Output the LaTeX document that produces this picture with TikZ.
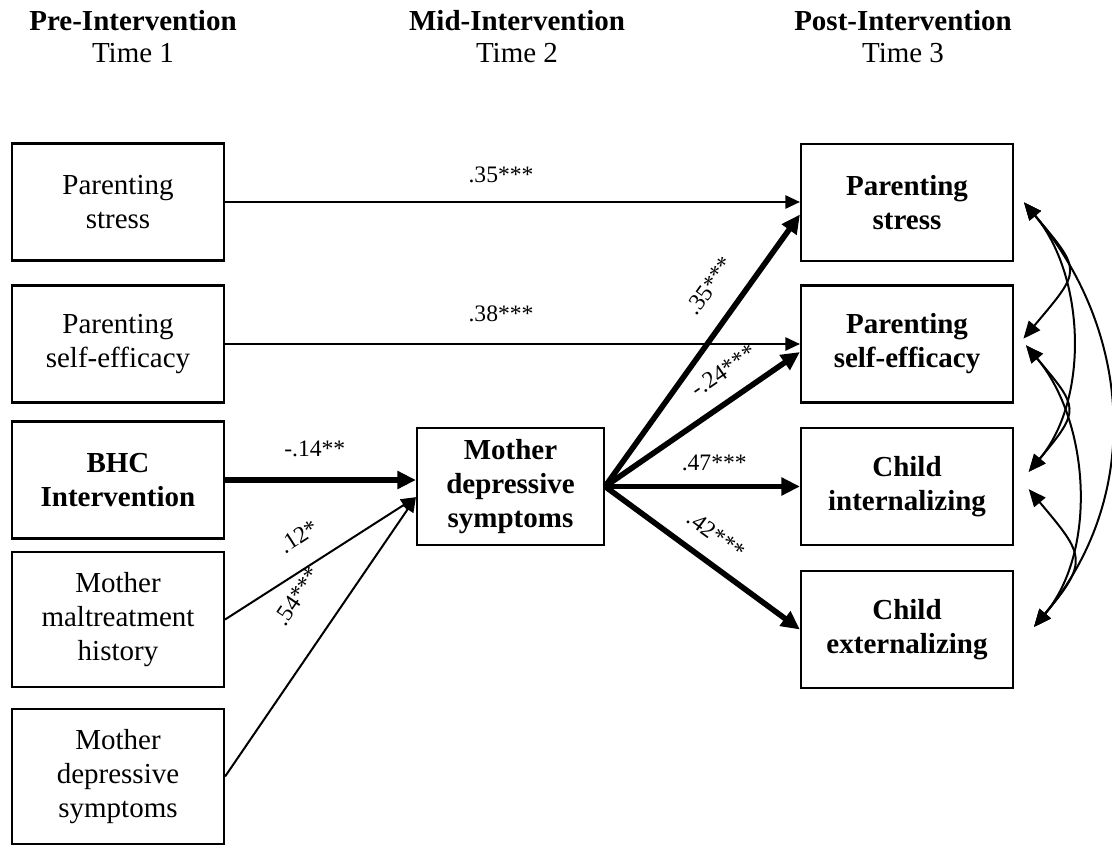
\documentclass[tikz,border=0pt]{standalone}
\usepackage{fontspec}
\setmainfont{Liberation Serif}
\usepackage{tikz}
\usetikzlibrary{arrows.meta}
\tikzstyle{varbox}=[draw, line width=1.6pt, align=center, minimum width=159pt, minimum height=87.75pt, inner sep=2pt, font=\fontsize{21.75}{25.5}\selectfont]
\tikzstyle{tallbox}=[varbox, minimum height=101.25pt]
\tikzstyle{outcome}=[varbox, font=\fontsize{21.75}{25.5}\selectfont\bfseries]
\tikzstyle{heading}=[align=center, font=\fontsize{21.75}{24}\selectfont]
\tikzstyle{thinpath}=[line width=1.5pt, -{Triangle[length=11pt,width=10pt]}]
\tikzstyle{thickpath}=[line width=4.2pt, -{Triangle[length=14pt,width=13pt]}]
\tikzstyle{covpath}=[line width=1.5pt, {Triangle[length=13pt,width=11pt]}-{Triangle[length=13pt,width=11pt]}]
\tikzstyle{coef}=[font=\fontsize{17.7}{20}\selectfont, inner sep=0pt]

\begin{document}
\begin{tikzpicture}[x=0.75pt, y=0.75pt]
	\useasboundingbox (0,0) rectangle (1112,-846);
	% time points
	\node[heading] (t1) at (133,-37) {\textbf{Pre-Intervention}\\Time 1};
	\node[heading] (t2) at (517,-37) {\textbf{Mid-Intervention}\\Time 2};
	\node[heading] (t3) at (903,-37) {\textbf{Post-Intervention}\\Time 3};
	% time 1
	\node[varbox] (ps1) at (118,-202) {Parenting\\stress};
	\node[varbox] (se1) at (118,-344) {Parenting\\self-efficacy};
	\node[outcome] (bhc) at (118,-480) {BHC\\Intervention};
	\node[tallbox] (mal) at (118,-619.5) {Mother\\maltreatment\\history};
	\node[tallbox] (dep1) at (118,-776.5) {Mother\\depressive\\symptoms};
	% time 2
	\node[outcome, minimum width=140.25pt] (dep2) at (510.5,-486.5) {Mother\\depressive\\symptoms};
	% time 3
	\node[outcome] (ps3) at (907,-202.5) {Parenting\\stress};
	\node[outcome] (se3) at (907,-344) {Parenting\\self-efficacy};
	\node[outcome] (int3) at (907,-486.5) {Child\\internalizing};
	\node[outcome] (ext3) at (907,-629.5) {Child\\externalizing};

	\coordinate (din) at ([yshift=-8pt]dep2.west);
	\coordinate (psin) at ([yshift=-9pt]ps3.west);
	\coordinate (sein) at ([yshift=-6pt]se3.west);

	\draw[thinpath] (ps1.east) -- (ps1.east -| ps3.west) node[coef, pos=.48, above=14pt] {.35***};
	\draw[thinpath] (se1.east) -- (se1.east -| se3.west) node[coef, pos=.48, above=16pt] {.38***};
	\draw[thickpath] (bhc.east) -- (bhc.east -| dep2.west) node[coef, pos=.47, above=15pt] {-.14**};
	\draw[thinpath] (mal.east) -- (din) node[coef, pos=.47, sloped, above=16pt] {.12*};
	\draw[thinpath] (dep1.east) -- (din) node[coef, pos=.56, sloped, above=25pt] {.54***};

	\draw[thickpath] (dep2.east) -- (psin) node[coef, pos=.67, sloped, above=16pt] {.35***};
	\draw[thickpath] (dep2.east) -- (sein) node[coef, pos=.69, sloped, above=13pt] {-.24***};
	\draw[thickpath] (dep2.east) -- (int3.west) node[coef, pos=.56, above=10pt] {.47***};
	\draw[thickpath] (dep2.east) -- (ext3.west) node[coef, pos=.49, sloped, above=12pt] {.42***};

	% covariances
	\coordinate (c1) at ([xshift=7.5pt]ps3.east);
	\coordinate (c2a) at ([xshift=7pt,yshift=4pt]se3.east);
	\coordinate (c2b) at ([xshift=9pt,yshift=-1pt]se3.east);
	\coordinate (c3a) at ([xshift=11pt,yshift=11pt]int3.east);
	\coordinate (c3b) at ([xshift=11pt,yshift=-2pt]int3.east);
	\coordinate (c4) at ([xshift=15pt,yshift=2pt]ext3.east);
	\draw[covpath] (c1) to[out=-50, in=50, looseness=1.7] (c2a);
	\draw[covpath] (c1) to[out=-50, in=50, looseness=0.9] (c3a);
	\draw[covpath] (c1) to[out=-50, in=50, looseness=1.02] (c4);
	\draw[covpath] (c2b) to[out=-50, in=50, looseness=1.65] (c3a);
	\draw[covpath] (c2b) to[out=-50, in=50, looseness=0.9] (c4);
	\draw[covpath] (c3b) to[out=-50, in=50, looseness=1.6] (c4);
\end{tikzpicture}
\end{document}
